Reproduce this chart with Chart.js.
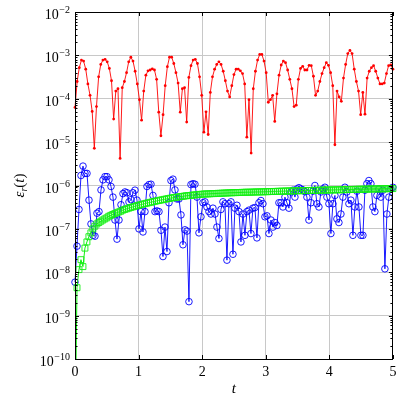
<!DOCTYPE html>
<html>
<head>
<meta charset="utf-8">
<script src="https://cdn.jsdelivr.net/npm/chart.js@4.4.1/dist/chart.umd.min.js"></script>
<style>
  html, body { margin: 0; padding: 0; background: #fff; }
</style>
</head>
<body>
<canvas id="errChart" width="398" height="398"></canvas>
<script>
const redErr = [
  6.3e-5, 2.5e-4, 5.2e-4, 7.8e-4, 7.4e-4, 4.8e-4, 2.2e-4, 1.2e-4, 5.1e-5, 7.2e-6,
  6.6e-5, 3.2e-4, 6.2e-4, 7.8e-4, 8.1e-4, 7.1e-4, 5.0e-4, 2.6e-4, 3.4e-5, 1.5e-4,
  1.7e-4, 4.2e-6, 1.8e-4, 2.5e-4, 4.0e-4, 7.1e-4, 9.1e-4, 7.4e-4, 4.3e-4, 2.2e-4,
  9.5e-5, 3.2e-5, 1.5e-4, 3.5e-4, 4.4e-4, 4.6e-4, 4.9e-4, 4.6e-4, 2.8e-4, 4.9e-5,
  1.4e-5, 4.3e-5, 2.0e-4, 5.5e-4, 9.1e-4, 9.1e-4, 6.5e-4, 4.0e-4, 2.3e-4, 4.9e-5,
  1.7e-4, 1.8e-4, 2.9e-5, 3.1e-4, 5.8e-4, 7.8e-4, 8.1e-4, 6.5e-4, 3.2e-4, 1.2e-4,
  1.7e-5, 5.0e-5, 1.5e-5, 1.4e-4, 3.2e-4, 4.8e-4, 6.2e-4, 7.1e-4, 6.2e-4, 4.3e-4,
  2.6e-4, 1.5e-4, 1.1e-4, 2.0e-4, 3.6e-4, 4.8e-4, 4.8e-4, 4.4e-4, 3.8e-4, 2.2e-4,
  1.3e-5, 9.5e-5, 5.6e-6, 1.7e-4, 4.3e-4, 7.8e-4, 1.05e-3, 1.05e-3, 7.4e-4, 4.0e-4,
  8.3e-5, 9.5e-5, 1.2e-4, 3.0e-5, 1.3e-4, 3.5e-4, 6.0e-4, 7.4e-4, 6.8e-4, 4.6e-4,
  2.8e-4, 1.7e-4, 6.6e-5, 7.1e-5, 2.8e-4, 5.0e-4, 5.6e-4, 4.6e-4, 4.6e-4, 5.9e-4,
  5.8e-4, 3.3e-4, 1.2e-4, 1.5e-4, 2.5e-4, 3.8e-4, 5.2e-4, 6.8e-4, 5.9e-4, 4.0e-4,
  2.0e-4, 8.7e-6, 1.5e-4, 1.1e-4, 8.7e-5, 3.0e-4, 6.2e-4, 1.1e-3, 1.3e-3, 1.1e-3,
  4.8e-4, 2.5e-4, 1.5e-4, 4.3e-5, 1.4e-4, 4.4e-5, 3.0e-4, 4.3e-4, 5.2e-4, 5.8e-4,
  4.3e-4, 3.0e-4, 2.2e-4, 2.2e-4, 2.3e-4, 3.8e-4, 5.8e-4, 6.0e-4, 4.8e-4
];

const blueErr = [
  5.9e-9, 4.0e-8, 2.8e-7, 1.7e-6, 2.8e-6, 1.9e-6, 1.9e-6, 4.6e-7, 1.3e-7, 7.1e-8,
  6.8e-8, 2.3e-7, 2.5e-7, 7.9e-7, 1.35e-6, 1.6e-6, 1.6e-6, 1.35e-6, 9.5e-7, 5.4e-7,
  1.6e-7, 5.8e-8, 1.6e-7, 3.6e-7, 6.5e-7, 7.1e-7, 6.8e-7, 4.2e-7, 4.7e-7, 6.8e-7,
  7.8e-7, 4.6e-7, 1.0e-7, 2.5e-7, 8.5e-8, 2.5e-7, 9.5e-7, 1.05e-6, 1.07e-6, 5.9e-7,
  2.5e-7, 2.6e-7, 2.5e-7, 9.3e-8, 2.3e-8, 1.1e-7, 3.0e-8, 4.0e-7, 1.3e-6, 1.4e-6,
  7.9e-7, 4.9e-7, 4.9e-7, 2.1e-7, 4.3e-8, 9.5e-8, 8.9e-8, 2.1e-9, 1.05e-6, 1.1e-6,
  1.07e-6, 5.4e-7, 8.1e-8, 1.9e-7, 4.0e-7, 4.2e-7, 3.2e-7, 2.5e-7, 2.2e-7, 3.0e-7,
  2.2e-7, 1.1e-7, 6.0e-8, 2.8e-7, 4.2e-7, 3.8e-7, 1.9e-8, 3.8e-7, 4.2e-7, 2.6e-8,
  3.0e-7, 3.5e-7, 2.5e-7, 5.0e-8, 2.2e-7, 7.1e-8, 2.5e-7, 2.7e-7, 7.8e-8, 3.0e-7,
  3.1e-7, 6.2e-8, 4.0e-7, 4.5e-7, 3.8e-7, 1.9e-7, 2.0e-7, 7.8e-8, 1.6e-7, 1.1e-7,
  1.4e-7, 1.2e-7, 4.0e-7, 4.0e-7, 3.2e-7, 5.4e-7, 4.0e-7, 3.0e-7, 7.1e-7, 7.8e-7,
  5.4e-7, 8.3e-7, 8.9e-7, 8.3e-7, 7.9e-7, 7.2e-7, 5.4e-7, 1.6e-7, 4.0e-7, 7.4e-7,
  1.0e-6, 3.8e-7, 3.2e-7, 7.1e-7, 8.3e-7, 9.1e-7, 5.4e-7, 3.8e-7, 7.8e-8, 3.8e-7,
  5.9e-7, 1.7e-7, 1.4e-7, 2.2e-7, 5.4e-7, 9.1e-7, 7.1e-7, 3.8e-7, 4.6e-7, 7.1e-8,
  3.2e-7, 7.4e-7, 3.2e-7, 7.1e-8, 7.1e-8, 7.8e-7, 1.1e-6, 1.3e-6, 1.1e-6, 3.2e-7,
  2.5e-7, 5.9e-7, 8.3e-7, 5.4e-7, 7.8e-7, 1.2e-8, 2.2e-7, 5.4e-7, 8.3e-7, 9.1e-7
];

// first green value sits below the axis floor (line runs off the bottom)
const greenErr = [
  1e-12, 4.4e-9, 1.15e-8, 1.95e-8, 1.35e-8, 3.6e-8, 5.0e-8, 6.6e-8, 8.1e-8, 1.0e-7,
  1.15e-7, 1.3e-7, 1.4e-7, 1.5e-7, 1.6e-7, 1.7e-7, 1.8e-7, 1.95e-7, 2.05e-7, 2.15e-7,
  2.25e-7, 2.35e-7, 2.45e-7, 2.55e-7, 2.7e-7, 2.8e-7, 2.9e-7, 3.0e-7, 3.1e-7, 3.2e-7,
  3.3e-7, 3.4e-7, 3.5e-7, 3.6e-7, 3.7e-7, 3.8e-7, 3.9e-7, 4.0e-7, 4.1e-7, 4.2e-7,
  4.3e-7, 4.4e-7, 4.5e-7, 4.6e-7, 4.7e-7, 4.8e-7, 4.9e-7, 5.0e-7, 5.1e-7, 5.2e-7,
  5.3e-7, 5.35e-7, 5.45e-7, 5.55e-7, 5.6e-7, 5.7e-7, 5.8e-7, 5.85e-7, 5.9e-7, 6.0e-7,
  6.05e-7, 6.1e-7, 6.2e-7, 6.25e-7, 6.3e-7, 6.35e-7, 6.4e-7, 6.4e-7, 6.45e-7, 6.5e-7,
  6.5e-7, 6.55e-7, 6.6e-7, 6.6e-7, 6.65e-7, 6.7e-7, 6.7e-7, 6.75e-7, 6.8e-7, 6.8e-7,
  6.85e-7, 6.85e-7, 6.9e-7, 6.9e-7, 6.95e-7, 6.95e-7, 7.0e-7, 7.0e-7, 7.0e-7, 7.05e-7,
  7.05e-7, 7.1e-7, 7.1e-7, 7.1e-7, 7.15e-7, 7.15e-7, 7.2e-7, 7.2e-7, 7.25e-7, 7.25e-7,
  7.3e-7, 7.3e-7, 7.35e-7, 7.35e-7, 7.4e-7, 7.4e-7, 7.45e-7, 7.45e-7, 7.5e-7, 7.5e-7,
  7.5e-7, 7.55e-7, 7.55e-7, 7.6e-7, 7.6e-7, 7.6e-7, 7.65e-7, 7.65e-7, 7.7e-7, 7.7e-7,
  7.7e-7, 7.75e-7, 7.75e-7, 7.8e-7, 7.8e-7, 7.8e-7, 7.85e-7, 7.85e-7, 7.9e-7, 7.9e-7,
  7.9e-7, 7.95e-7, 7.95e-7, 8.0e-7, 8.0e-7, 8.0e-7, 8.05e-7, 8.05e-7, 8.1e-7, 8.1e-7,
  8.1e-7, 8.15e-7, 8.15e-7, 8.2e-7, 8.2e-7, 8.2e-7, 8.25e-7, 8.25e-7, 8.3e-7, 8.3e-7,
  8.3e-7, 8.35e-7, 8.35e-7, 8.35e-7, 8.4e-7, 8.4e-7, 8.4e-7, 8.45e-7, 8.45e-7, 8.5e-7,
  8.5e-7
];

const tMin = 0, tMax = 5;
const xTicks = [0, 1, 2, 3, 4, 5];
const yTicks = [1e-10, 1e-9, 1e-8, 1e-7, 1e-6, 1e-5, 1e-4, 1e-3, 1e-2];
const yTickExp = ['\u221210', '\u22129', '\u22128', '\u22127', '\u22126', '\u22125', '\u22124', '\u22123', '\u22122'];

// pair each value with its t on an even grid over [tMin, tMax]
function toPoints(vals) {
    const n = vals.length - 1;
    return vals.map((v, i) => ({ x: tMin + (tMax - tMin) * i / n, y: v }));
}

const SERIF = '"Liberation Serif", "DejaVu Serif", serif';

// frame, inward ticks, tick labels and axis titles
const axisDecor = {
    id: 'axisDecor',
    afterDraw(chart) {
        const { ctx, chartArea: a, scales: { x, y } } = chart;
        ctx.save();
        ctx.strokeStyle = '#000';
        ctx.lineWidth = 1;
        ctx.beginPath();
        xTicks.forEach(v => {
            const px = Math.round(x.getPixelForValue(v)) + 0.5;
            ctx.moveTo(px, a.bottom); ctx.lineTo(px, a.bottom - 4);
            ctx.moveTo(px, a.top); ctx.lineTo(px, a.top + 4);
        });
        yTicks.forEach((v, i) => {
            const py = Math.round(y.getPixelForValue(v)) + 0.5;
            ctx.moveTo(a.left, py); ctx.lineTo(a.left + 4, py);
            ctx.moveTo(a.right, py); ctx.lineTo(a.right - 4, py);
            if (i < yTicks.length - 1) {
                for (let k = 2; k <= 9; k++) {
                    const my = Math.round(y.getPixelForValue(v * k)) + 0.5;
                    ctx.moveTo(a.left, my); ctx.lineTo(a.left + 2.5, my);
                    ctx.moveTo(a.right, my); ctx.lineTo(a.right - 2.5, my);
                }
            }
        });
        ctx.stroke();
        ctx.strokeRect(Math.round(a.left) + 0.5, Math.round(a.top) + 0.5,
            Math.round(a.right - a.left) - 1, Math.round(a.bottom - a.top));

        ctx.fillStyle = '#000';
        ctx.textBaseline = 'alphabetic';

        // x tick labels
        ctx.textAlign = 'center';
        ctx.font = '14px ' + SERIF;
        xTicks.forEach(v => ctx.fillText(String(v), x.getPixelForValue(v), a.bottom + 17));

        // y tick labels: 10 with raised exponent
        ctx.textAlign = 'right';
        yTicks.forEach((v, i) => {
            const py = y.getPixelForValue(v);
            ctx.font = '10px ' + SERIF;
            const w = ctx.measureText(yTickExp[i]).width;
            ctx.fillText(yTickExp[i], 70, py + 1);
            ctx.font = '14px ' + SERIF;
            ctx.fillText('10', 70 - w - 0.5, py + 7);
        });

        // x title
        ctx.textAlign = 'center';
        ctx.font = 'italic 15px ' + SERIF;
        ctx.fillText('t', (a.left + a.right) / 2, 393);

        // y title: eps_r(t), rotated
        ctx.translate(19, (a.top + a.bottom) / 2);
        ctx.rotate(-Math.PI / 2);
        ctx.textAlign = 'left';
        const parts = [
            ['italic 15px ', '\u03b5', 0],
            ['italic 10px ', 'r', 3],
            ['15px ', '(', 0],
            ['italic 15px ', 't', 0],
            ['15px ', ')', 0]
        ];
        let total = 0;
        parts.forEach(p => { ctx.font = p[0] + SERIF; total += ctx.measureText(p[1]).width; });
        let cx = -total / 2;
        parts.forEach(p => {
            ctx.font = p[0] + SERIF;
            ctx.fillText(p[1], cx, 5 + p[2]);
            cx += ctx.measureText(p[1]).width;
        });
        ctx.restore();
    }
};

new Chart(document.getElementById('errChart'), {
    type: 'scatter',
    data: {
        datasets: [
            {
                label: 'green',
                data: toPoints(greenErr),
                showLine: true,
                borderColor: '#11ee11',
                borderWidth: 1,
                pointStyle: 'rect',
                pointRadius: 4.2,
                pointBorderWidth: 0.9,
                pointBackgroundColor: 'rgba(0,0,0,0)',
                pointBorderColor: '#11ee11',
                clip: { left: 6, right: 6, top: 6, bottom: 0 },
                order: 0
            },
            {
                label: 'blue',
                data: toPoints(blueErr),
                showLine: true,
                borderColor: '#0000ff',
                borderWidth: 0.9,
                pointStyle: 'circle',
                pointRadius: 3.3,
                pointBorderWidth: 0.9,
                pointBackgroundColor: 'rgba(0,0,0,0)',
                pointBorderColor: '#0000ff',
                clip: { left: 6, right: 6, top: 6, bottom: 0 },
                order: 1
            },
            {
                label: 'red',
                data: toPoints(redErr),
                showLine: true,
                borderColor: '#ff0000',
                borderWidth: 0.9,
                pointStyle: 'circle',
                pointRadius: 1.4,
                pointBorderWidth: 0,
                pointBackgroundColor: '#ff0000',
                clip: { left: 6, right: 6, top: 6, bottom: 0 },
                order: 2
            }
        ]
    },
    options: {
        responsive: false,
        animation: false,
        events: [],
        layout: { padding: { left: 0, right: 3, top: 12, bottom: 0 } },
        plugins: { legend: { display: false }, tooltip: { enabled: false } },
        scales: {
            x: {
                type: 'linear',
                min: tMin,
                max: tMax,
                afterBuildTicks(s) { s.ticks = xTicks.map(v => ({ value: v })); },
                ticks: { display: false },
                grid: { color: '#c8c8c8', drawTicks: false },
                border: { display: false },
                afterFit(s) { s.height = 39; }
            },
            y: {
                type: 'logarithmic',
                min: 1e-10,
                max: 1e-2,
                afterBuildTicks(s) { s.ticks = yTicks.map(v => ({ value: v })); },
                ticks: { display: false },
                grid: { color: '#c8c8c8', drawTicks: false },
                border: { display: false },
                afterFit(s) { s.width = 75; }
            }
        }
    },
    plugins: [axisDecor]
});
</script>
</body>
</html>
